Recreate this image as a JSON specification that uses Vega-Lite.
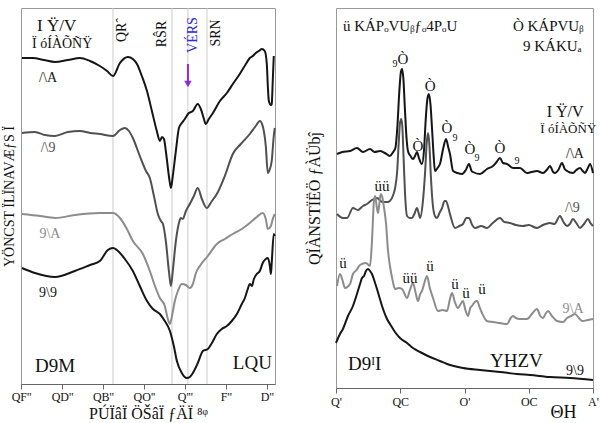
{
  "$schema": "https://vega.github.io/schema/vega-lite/v6.json",
  "background": "white",
  "padding": {"left": 1, "top": 7, "right": 1, "bottom": 2},
  "spacing": 25,
  "config": {
    "font": "Liberation Serif",
    "view": {"stroke": "#9a9a9a", "strokeWidth": 1},
    "axis": {"grid": false, "labelFont": "Liberation Serif", "titleFont": "Liberation Serif", "titleFontWeight": "normal", "labelColor": "#111", "titleColor": "#111", "domainColor": "#666", "tickColor": "#666"},
    "text": {"font": "Liberation Serif"}
  },
  "datasets": {
    "bands": [{"wn": 1351}, {"wn": 1063}, {"wn": 985}, {"wn": 892}],
    "ftir": [
      {"series":"F1","wn":1795,"a":326},{"series":"F1","wn":1741,"a":326},{"series":"F1","wn":1688,"a":324},{"series":"F1","wn":1634,"a":322},{"series":"F1","wn":1571,"a":324},{"series":"F1","wn":1512,"a":326},{"series":"F1","wn":1463,"a":323},{"series":"F1","wn":1415,"a":318},{"series":"F1","wn":1380,"a":313},{"series":"F1","wn":1351,"a":308},{"series":"F1","wn":1317,"a":321},{"series":"F1","wn":1278,"a":327},{"series":"F1","wn":1254,"a":325},{"series":"F1","wn":1234,"a":320},{"series":"F1","wn":1210,"a":308},{"series":"F1","wn":1185,"a":293},{"series":"F1","wn":1161,"a":273},{"series":"F1","wn":1137,"a":253},{"series":"F1","wn":1122,"a":243},{"series":"F1","wn":1112,"a":247},{"series":"F1","wn":1102,"a":245},{"series":"F1","wn":1093,"a":233},{"series":"F1","wn":1078,"a":208},{"series":"F1","wn":1068,"a":196},{"series":"F1","wn":1059,"a":208},{"series":"F1","wn":1044,"a":233},{"series":"F1","wn":1029,"a":256},{"series":"F1","wn":1015,"a":261},{"series":"F1","wn":1000,"a":265},{"series":"F1","wn":985,"a":270},{"series":"F1","wn":961,"a":273},{"series":"F1","wn":937,"a":280},{"series":"F1","wn":922,"a":275},{"series":"F1","wn":907,"a":265},{"series":"F1","wn":898,"a":260},{"series":"F1","wn":883,"a":265},{"series":"F1","wn":863,"a":271},{"series":"F1","wn":829,"a":283},{"series":"F1","wn":795,"a":291},{"series":"F1","wn":766,"a":300},{"series":"F1","wn":732,"a":310},{"series":"F1","wn":702,"a":320},{"series":"F1","wn":683,"a":326},{"series":"F1","wn":668,"a":328},{"series":"F1","wn":654,"a":331},{"series":"F1","wn":639,"a":333},{"series":"F1","wn":624,"a":335},{"series":"F1","wn":610,"a":333},{"series":"F1","wn":600,"a":320},{"series":"F1","wn":595,"a":298},{"series":"F1","wn":590,"a":283},{"series":"F1","wn":580,"a":279},{"series":"F1","wn":576,"a":280},{"series":"F1","wn":571,"a":303},{"series":"F1","wn":566,"a":328},
      {"series":"F2","wn":1795,"a":251},{"series":"F2","wn":1732,"a":252},{"series":"F2","wn":1683,"a":249},{"series":"F2","wn":1634,"a":248},{"series":"F2","wn":1571,"a":252},{"series":"F2","wn":1512,"a":253},{"series":"F2","wn":1463,"a":251},{"series":"F2","wn":1415,"a":250},{"series":"F2","wn":1351,"a":248},{"series":"F2","wn":1317,"a":254},{"series":"F2","wn":1293,"a":256},{"series":"F2","wn":1273,"a":253},{"series":"F2","wn":1254,"a":246},{"series":"F2","wn":1220,"a":228},{"series":"F2","wn":1190,"a":213},{"series":"F2","wn":1171,"a":206},{"series":"F2","wn":1151,"a":188},{"series":"F2","wn":1132,"a":170},{"series":"F2","wn":1117,"a":163},{"series":"F2","wn":1107,"a":160},{"series":"F2","wn":1093,"a":143},{"series":"F2","wn":1078,"a":113},{"series":"F2","wn":1068,"a":98},{"series":"F2","wn":1059,"a":113},{"series":"F2","wn":1044,"a":143},{"series":"F2","wn":1029,"a":161},{"series":"F2","wn":1020,"a":166},{"series":"F2","wn":1010,"a":165},{"series":"F2","wn":995,"a":173},{"series":"F2","wn":976,"a":180},{"series":"F2","wn":956,"a":188},{"series":"F2","wn":937,"a":196},{"series":"F2","wn":917,"a":185},{"series":"F2","wn":893,"a":176},{"series":"F2","wn":868,"a":183},{"series":"F2","wn":844,"a":190},{"series":"F2","wn":805,"a":208},{"series":"F2","wn":766,"a":230},{"series":"F2","wn":727,"a":240},{"series":"F2","wn":683,"a":250},{"series":"F2","wn":654,"a":258},{"series":"F2","wn":634,"a":263},{"series":"F2","wn":620,"a":258},{"series":"F2","wn":605,"a":238},{"series":"F2","wn":595,"a":211},{"series":"F2","wn":585,"a":215},{"series":"F2","wn":576,"a":223},{"series":"F2","wn":566,"a":248},{"series":"F2","wn":561,"a":256},
      {"series":"F3","wn":1795,"a":170},{"series":"F3","wn":1707,"a":168},{"series":"F3","wn":1634,"a":166},{"series":"F3","wn":1537,"a":169},{"series":"F3","wn":1415,"a":171},{"series":"F3","wn":1351,"a":171},{"series":"F3","wn":1317,"a":166},{"series":"F3","wn":1283,"a":155},{"series":"F3","wn":1254,"a":143},{"series":"F3","wn":1205,"a":130},{"series":"F3","wn":1171,"a":113},{"series":"F3","wn":1146,"a":98},{"series":"F3","wn":1122,"a":86},{"series":"F3","wn":1098,"a":78},{"series":"F3","wn":1083,"a":65},{"series":"F3","wn":1073,"a":60},{"series":"F3","wn":1063,"a":68},{"series":"F3","wn":1049,"a":83},{"series":"F3","wn":1034,"a":93},{"series":"F3","wn":1015,"a":100},{"series":"F3","wn":995,"a":99},{"series":"F3","wn":976,"a":96},{"series":"F3","wn":961,"a":100},{"series":"F3","wn":946,"a":111},{"series":"F3","wn":927,"a":118},{"series":"F3","wn":888,"a":128},{"series":"F3","wn":844,"a":140},{"series":"F3","wn":805,"a":145},{"series":"F3","wn":766,"a":150},{"series":"F3","wn":722,"a":155},{"series":"F3","wn":683,"a":161},{"series":"F3","wn":649,"a":167},{"series":"F3","wn":620,"a":171},{"series":"F3","wn":605,"a":165},{"series":"F3","wn":595,"a":155},{"series":"F3","wn":580,"a":158},{"series":"F3","wn":571,"a":165},{"series":"F3","wn":561,"a":170},
      {"series":"F4","wn":1795,"a":116},{"series":"F4","wn":1732,"a":111},{"series":"F4","wn":1634,"a":107},{"series":"F4","wn":1537,"a":113},{"series":"F4","wn":1463,"a":119},{"series":"F4","wn":1415,"a":123},{"series":"F4","wn":1376,"a":134},{"series":"F4","wn":1351,"a":136},{"series":"F4","wn":1332,"a":134},{"series":"F4","wn":1293,"a":125},{"series":"F4","wn":1254,"a":113},{"series":"F4","wn":1220,"a":98},{"series":"F4","wn":1185,"a":83},{"series":"F4","wn":1156,"a":75},{"series":"F4","wn":1122,"a":70},{"series":"F4","wn":1098,"a":63},{"series":"F4","wn":1073,"a":53},{"series":"F4","wn":1054,"a":38},{"series":"F4","wn":1039,"a":23},{"series":"F4","wn":1015,"a":11},{"series":"F4","wn":990,"a":6},{"series":"F4","wn":976,"a":7},{"series":"F4","wn":961,"a":11},{"series":"F4","wn":937,"a":21},{"series":"F4","wn":912,"a":33},{"series":"F4","wn":888,"a":35},{"series":"F4","wn":868,"a":41},{"series":"F4","wn":844,"a":50},{"series":"F4","wn":820,"a":55},{"series":"F4","wn":795,"a":58},{"series":"F4","wn":771,"a":63},{"series":"F4","wn":746,"a":70},{"series":"F4","wn":722,"a":80},{"series":"F4","wn":707,"a":86},{"series":"F4","wn":693,"a":95},{"series":"F4","wn":683,"a":100},{"series":"F4","wn":673,"a":98},{"series":"F4","wn":663,"a":105},{"series":"F4","wn":649,"a":110},{"series":"F4","wn":634,"a":113},{"series":"F4","wn":620,"a":121},{"series":"F4","wn":605,"a":125},{"series":"F4","wn":595,"a":126},{"series":"F4","wn":585,"a":118},{"series":"F4","wn":580,"a":110},{"series":"F4","wn":576,"a":121},{"series":"F4","wn":566,"a":150},{"series":"F4","wn":561,"a":148}
    ],
    "ftirNames": [
      {"series":"F1","label":"/\\A","wn":1668,"a":306},
      {"series":"F2","label":"/\\9","wn":1668,"a":236},
      {"series":"F3","label":"9\\A","wn":1659,"a":150},
      {"series":"F4","label":"9\\9","wn":1668,"a":91}
    ],
    "ftirNotes": [
      {"role":"head1","label":"I Ÿ/V","wn":1722,"a":358},
      {"role":"head2","label":"Ï óÍÀÕÑŸ","wn":1746,"a":340},
      {"role":"corner","label":"D9M","wn":1732,"a":18},
      {"role":"corner","label":"LQU","wn":766,"a":21}
    ],
    "ftirBands": [
      {"role":"black","label":"QRˆ","wn":1307,"a":354},
      {"role":"black","label":"RŜR","wn":1112,"a":350},
      {"role":"black","label":"SRN","wn":849,"a":351},
      {"role":"blue","label":"VÉRS","wn":961,"a":349}
    ],
    "arrow": [{"wn":985,"top":320,"bottom":303,"tip":300}],
    "xrd": [
      {"series":"X1","tt":10.08,"i":234},{"series":"X1","tt":10.5,"i":236},{"series":"X1","tt":11.09,"i":237},{"series":"X1","tt":11.63,"i":240},{"series":"X1","tt":12.1,"i":236},{"series":"X1","tt":12.65,"i":239},{"series":"X1","tt":13.0,"i":236},{"series":"X1","tt":13.42,"i":237},{"series":"X1","tt":13.8,"i":235},{"series":"X1","tt":14.2,"i":232},{"series":"X1","tt":14.45,"i":236},{"series":"X1","tt":14.62,"i":240},{"series":"X1","tt":14.78,"i":262},{"series":"X1","tt":14.92,"i":295},{"series":"X1","tt":15.05,"i":316},{"series":"X1","tt":15.14,"i":319},{"series":"X1","tt":15.24,"i":310},{"series":"X1","tt":15.37,"i":277},{"series":"X1","tt":15.5,"i":248},{"series":"X1","tt":15.62,"i":236},{"series":"X1","tt":15.8,"i":232},{"series":"X1","tt":15.99,"i":229},{"series":"X1","tt":16.15,"i":232},{"series":"X1","tt":16.3,"i":236},{"series":"X1","tt":16.45,"i":230},{"series":"X1","tt":16.69,"i":224},{"series":"X1","tt":16.85,"i":238},{"series":"X1","tt":16.98,"i":268},{"series":"X1","tt":17.1,"i":288},{"series":"X1","tt":17.22,"i":294},{"series":"X1","tt":17.35,"i":284},{"series":"X1","tt":17.47,"i":260},{"series":"X1","tt":17.6,"i":232},{"series":"X1","tt":17.7,"i":217},{"series":"X1","tt":17.9,"i":220},{"series":"X1","tt":18.09,"i":224},{"series":"X1","tt":18.35,"i":240},{"series":"X1","tt":18.56,"i":249},{"series":"X1","tt":18.75,"i":240},{"series":"X1","tt":18.87,"i":234},{"series":"X1","tt":19.11,"i":217},{"series":"X1","tt":19.45,"i":215},{"series":"X1","tt":19.81,"i":214},{"series":"X1","tt":20.1,"i":218},{"series":"X1","tt":20.35,"i":224},{"series":"X1","tt":20.55,"i":217},{"series":"X1","tt":20.66,"i":216},{"series":"X1","tt":21.21,"i":214},{"series":"X1","tt":21.75,"i":219},{"series":"X1","tt":22.22,"i":222},{"series":"X1","tt":22.5,"i":226},{"series":"X1","tt":22.76,"i":230},{"series":"X1","tt":23.0,"i":225},{"series":"X1","tt":23.31,"i":224},{"series":"X1","tt":23.8,"i":220},{"series":"X1","tt":24.32,"i":220},{"series":"X1","tt":24.86,"i":215},{"series":"X1","tt":25.2,"i":216},{"series":"X1","tt":25.64,"i":217},{"series":"X1","tt":26.11,"i":215},{"series":"X1","tt":26.4,"i":218},{"series":"X1","tt":26.65,"i":222},{"series":"X1","tt":26.9,"i":216},{"series":"X1","tt":27.04,"i":215},{"series":"X1","tt":27.3,"i":218},{"series":"X1","tt":27.59,"i":225},{"series":"X1","tt":27.8,"i":219},{"series":"X1","tt":27.98,"i":217},{"series":"X1","tt":28.44,"i":215},{"series":"X1","tt":28.7,"i":218},{"series":"X1","tt":28.99,"i":220},{"series":"X1","tt":29.2,"i":217},{"series":"X1","tt":29.38,"i":215},{"series":"X1","tt":29.6,"i":220},{"series":"X1","tt":29.77,"i":224},{"series":"X1","tt":30.0,"i":215},
      {"series":"X2","tt":10.08,"i":174},{"series":"X2","tt":10.54,"i":170},{"series":"X2","tt":10.86,"i":170},{"series":"X2","tt":11.32,"i":180},{"series":"X2","tt":11.7,"i":178},{"series":"X2","tt":12.1,"i":182},{"series":"X2","tt":12.41,"i":184},{"series":"X2","tt":12.8,"i":188},{"series":"X2","tt":13.19,"i":190},{"series":"X2","tt":13.6,"i":186},{"series":"X2","tt":14.0,"i":186},{"series":"X2","tt":14.2,"i":187},{"series":"X2","tt":14.45,"i":193},{"series":"X2","tt":14.6,"i":200},{"series":"X2","tt":14.75,"i":215},{"series":"X2","tt":14.88,"i":245},{"series":"X2","tt":14.98,"i":265},{"series":"X2","tt":15.08,"i":269},{"series":"X2","tt":15.16,"i":262},{"series":"X2","tt":15.26,"i":230},{"series":"X2","tt":15.37,"i":195},{"series":"X2","tt":15.53,"i":172},{"series":"X2","tt":15.75,"i":170},{"series":"X2","tt":15.91,"i":170},{"series":"X2","tt":16.1,"i":174},{"series":"X2","tt":16.3,"i":180},{"series":"X2","tt":16.45,"i":174},{"series":"X2","tt":16.54,"i":170},{"series":"X2","tt":16.75,"i":185},{"series":"X2","tt":16.93,"i":215},{"series":"X2","tt":17.06,"i":245},{"series":"X2","tt":17.16,"i":255},{"series":"X2","tt":17.26,"i":245},{"series":"X2","tt":17.39,"i":210},{"series":"X2","tt":17.52,"i":185},{"series":"X2","tt":17.7,"i":172},{"series":"X2","tt":17.86,"i":170},{"series":"X2","tt":18.05,"i":175},{"series":"X2","tt":18.25,"i":180},{"series":"X2","tt":18.45,"i":187},{"series":"X2","tt":18.56,"i":187},{"series":"X2","tt":18.75,"i":180},{"series":"X2","tt":18.87,"i":174},{"series":"X2","tt":19.26,"i":160},{"series":"X2","tt":19.6,"i":162},{"series":"X2","tt":19.88,"i":164},{"series":"X2","tt":20.15,"i":170},{"series":"X2","tt":20.35,"i":170},{"series":"X2","tt":20.6,"i":163},{"series":"X2","tt":20.82,"i":160},{"series":"X2","tt":21.3,"i":162},{"series":"X2","tt":21.75,"i":160},{"series":"X2","tt":22.2,"i":165},{"series":"X2","tt":22.76,"i":170},{"series":"X2","tt":23.1,"i":166},{"series":"X2","tt":23.54,"i":165},{"series":"X2","tt":24.0,"i":163},{"series":"X2","tt":24.55,"i":162},{"series":"X2","tt":25.0,"i":163},{"series":"X2","tt":25.64,"i":160},{"series":"X2","tt":26.1,"i":163},{"series":"X2","tt":26.65,"i":165},{"series":"X2","tt":27.0,"i":164},{"series":"X2","tt":27.43,"i":172},{"series":"X2","tt":27.7,"i":166},{"series":"X2","tt":27.98,"i":162},{"series":"X2","tt":28.2,"i":164},{"series":"X2","tt":28.44,"i":169},{"series":"X2","tt":28.7,"i":165},{"series":"X2","tt":28.99,"i":160},{"series":"X2","tt":29.3,"i":164},{"series":"X2","tt":29.61,"i":169},{"series":"X2","tt":29.8,"i":165},{"series":"X2","tt":30.0,"i":162},
      {"series":"X3","tt":10.08,"i":102},{"series":"X3","tt":10.31,"i":114},{"series":"X3","tt":10.5,"i":108},{"series":"X3","tt":10.7,"i":100},{"series":"X3","tt":11.09,"i":104},{"series":"X3","tt":11.32,"i":114},{"series":"X3","tt":11.6,"i":118},{"series":"X3","tt":11.87,"i":123},{"series":"X3","tt":12.33,"i":125},{"series":"X3","tt":12.65,"i":122},{"series":"X3","tt":12.8,"i":147},{"series":"X3","tt":12.96,"i":188},{"series":"X3","tt":13.05,"i":192},{"series":"X3","tt":13.18,"i":180},{"series":"X3","tt":13.27,"i":175},{"series":"X3","tt":13.35,"i":182},{"series":"X3","tt":13.48,"i":194},{"series":"X3","tt":13.58,"i":192},{"series":"X3","tt":13.74,"i":180},{"series":"X3","tt":13.89,"i":165},{"series":"X3","tt":14.05,"i":137},{"series":"X3","tt":14.2,"i":122},{"series":"X3","tt":14.4,"i":108},{"series":"X3","tt":14.59,"i":99},{"series":"X3","tt":14.9,"i":100},{"series":"X3","tt":15.14,"i":99},{"series":"X3","tt":15.53,"i":90},{"series":"X3","tt":15.75,"i":98},{"series":"X3","tt":15.99,"i":105},{"series":"X3","tt":16.2,"i":95},{"series":"X3","tt":16.38,"i":87},{"series":"X3","tt":16.55,"i":94},{"series":"X3","tt":16.69,"i":97},{"series":"X3","tt":16.9,"i":106},{"series":"X3","tt":17.08,"i":112},{"series":"X3","tt":17.3,"i":100},{"series":"X3","tt":17.55,"i":90},{"series":"X3","tt":17.94,"i":77},{"series":"X3","tt":18.3,"i":78},{"series":"X3","tt":18.64,"i":77},{"series":"X3","tt":18.85,"i":88},{"series":"X3","tt":19.03,"i":95},{"series":"X3","tt":19.25,"i":86},{"series":"X3","tt":19.49,"i":80},{"series":"X3","tt":19.7,"i":84},{"series":"X3","tt":19.88,"i":87},{"series":"X3","tt":20.07,"i":78},{"series":"X3","tt":20.27,"i":72},{"series":"X3","tt":20.45,"i":80},{"series":"X3","tt":20.58,"i":82},{"series":"X3","tt":20.8,"i":86},{"series":"X3","tt":20.97,"i":87},{"series":"X3","tt":21.2,"i":80},{"series":"X3","tt":21.36,"i":75},{"series":"X3","tt":21.75,"i":67},{"series":"X3","tt":22.2,"i":66},{"series":"X3","tt":22.76,"i":65},{"series":"X3","tt":23.31,"i":64},{"series":"X3","tt":23.6,"i":70},{"series":"X3","tt":23.77,"i":72},{"series":"X3","tt":24.0,"i":70},{"series":"X3","tt":24.32,"i":69},{"series":"X3","tt":24.86,"i":69},{"series":"X3","tt":25.3,"i":75},{"series":"X3","tt":25.64,"i":79},{"series":"X3","tt":25.9,"i":72},{"series":"X3","tt":26.11,"i":70},{"series":"X3","tt":26.3,"i":74},{"series":"X3","tt":26.5,"i":77},{"series":"X3","tt":26.8,"i":72},{"series":"X3","tt":27.2,"i":67},{"series":"X3","tt":27.67,"i":66},{"series":"X3","tt":27.98,"i":70},{"series":"X3","tt":28.3,"i":72},{"series":"X3","tt":28.6,"i":74},{"series":"X3","tt":28.9,"i":70},{"series":"X3","tt":29.18,"i":67},{"series":"X3","tt":29.6,"i":68},{"series":"X3","tt":30.0,"i":69},
      {"series":"X4","tt":10.0,"i":45},{"series":"X4","tt":10.31,"i":54},{"series":"X4","tt":10.54,"i":59},{"series":"X4","tt":10.93,"i":72},{"series":"X4","tt":11.32,"i":82},{"series":"X4","tt":11.63,"i":94},{"series":"X4","tt":11.87,"i":104},{"series":"X4","tt":12.02,"i":110},{"series":"X4","tt":12.18,"i":112},{"series":"X4","tt":12.33,"i":117},{"series":"X4","tt":12.49,"i":119},{"series":"X4","tt":12.65,"i":117},{"series":"X4","tt":12.8,"i":114},{"series":"X4","tt":13.04,"i":105},{"series":"X4","tt":13.19,"i":99},{"series":"X4","tt":13.42,"i":89},{"series":"X4","tt":13.66,"i":79},{"series":"X4","tt":13.97,"i":69},{"series":"X4","tt":14.2,"i":64},{"series":"X4","tt":14.59,"i":56},{"series":"X4","tt":14.98,"i":50},{"series":"X4","tt":15.53,"i":45},{"series":"X4","tt":15.99,"i":40},{"series":"X4","tt":16.54,"i":36},{"series":"X4","tt":17.32,"i":31},{"series":"X4","tt":18.09,"i":27},{"series":"X4","tt":18.64,"i":24},{"series":"X4","tt":19.88,"i":20},{"series":"X4","tt":21.21,"i":18},{"series":"X4","tt":22.76,"i":16},{"series":"X4","tt":24.09,"i":14},{"series":"X4","tt":25.1,"i":13},{"series":"X4","tt":26.65,"i":11},{"series":"X4","tt":28.21,"i":10},{"series":"X4","tt":30.0,"i":8}
    ],
    "xrdNames": [
      {"series":"X1","label":"/\\A","tt":28.6,"i":234},
      {"series":"X2","label":"/\\9","tt":28.4,"i":180},
      {"series":"X3","label":"9\\A","tt":28.45,"i":79},
      {"series":"X4","label":"9\\9","tt":28.6,"i":17}
    ],
    "xrdNotes": [
      {"role":"head","label":"ü  KÁPₒVUᵦƒₒ4PₒU","tt":10.54,"i":362},
      {"role":"head","label":"Ò  KÁPVUᵦ","tt":23.77,"i":362},
      {"role":"head","label":"9  KÁKUₐ","tt":24.55,"i":342},
      {"role":"head1","label":"I Ÿ/V","tt":26.4,"i":276},
      {"role":"head2","label":"Ï óÍÀÕÑŸ","tt":25.9,"i":259},
      {"role":"corner","label":"D9ᴵI","tt":10.93,"i":24},
      {"role":"corner","label":"YHZV","tt":21.98,"i":27}
    ],
    "xrdPeaks": [
      {"role":"big","label":"Ò","tt":15.21,"i":329},
      {"role":"big","label":"Ò","tt":17.32,"i":302},
      {"role":"big","label":"Ò","tt":16.38,"i":242},
      {"role":"big","label":"Ò","tt":18.64,"i":260},
      {"role":"big","label":"Ò","tt":20.43,"i":239},
      {"role":"big","label":"Ò","tt":22.76,"i":240},
      {"role":"small","label":"9","tt":14.59,"i":324},
      {"role":"small","label":"9","tt":19.26,"i":250},
      {"role":"small","label":"9","tt":20.97,"i":230},
      {"role":"small","label":"9","tt":24.09,"i":227},
      {"role":"big","label":"üü","tt":13.58,"i":202},
      {"role":"big","label":"ü","tt":10.54,"i":125},
      {"role":"big","label":"üü","tt":15.76,"i":110},
      {"role":"big","label":"ü","tt":17.32,"i":122},
      {"role":"big","label":"ü","tt":19.26,"i":104},
      {"role":"big","label":"ü","tt":20.12,"i":95},
      {"role":"big","label":"ü","tt":21.36,"i":99}
    ]
  },
  "hconcat": [
    {
      "width": 254,
      "height": 376,
      "layer": [
        {
          "data": {"name": "bands"},
          "mark": {"type": "rule", "color": "#cccccc", "strokeWidth": 1},
          "encoding": {
            "x": {"field": "wn", "type": "quantitative",
              "scale": {"domain": [560, 1800], "reverse": true, "nice": false, "zero": false},
              "axis": {"values": [1800,1700,1600,1500,1400,1300,1200,1100,1000,900,800,700,600],
                "labelExpr": "datum.value == 1800 ? \"QF''\" : datum.value == 1600 ? \"QD''\" : datum.value == 1400 ? \"QB''\" : datum.value == 1200 ? \"QO''\" : datum.value == 1000 ? \"Q'''\" : datum.value == 800 ? \"F''\" : datum.value == 600 ? \"D''\" : ''",
                "labelFontSize": 12, "tickSize": 5, "labelPadding": 2, "labelFlush": false,
                "title": "PÚÏâÏ ÖŠâÏ ƒÄÏ ⁸ᵠ", "titleFontSize": 16, "titlePadding": 3}}
          }
        },
        {
          "data": {"name": "ftir"},
          "mark": {"type": "line", "strokeWidth": 2, "interpolate": "monotone"},
          "encoding": {
            "x": {"field": "wn", "type": "quantitative"},
            "y": {"field": "a", "type": "quantitative",
              "scale": {"domain": [0, 376], "nice": false, "zero": false},
              "axis": {"ticks": false, "labels": false, "domain": false, "title": "YÖNCST ÏLÏNAVÆƒS Ï", "titleFontSize": 14, "titlePadding": 5}},
            "color": {"field": "series", "type": "nominal",
              "scale": {"domain": ["F1","F2","F3","F4"], "range": ["#151515","#505050","#8c8c8c","#151515"]},
              "legend": null}
          }
        },
        {
          "data": {"name": "ftirNames"},
          "mark": {"type": "text", "fontSize": 14, "align": "center", "baseline": "middle"},
          "encoding": {
            "x": {"field": "wn", "type": "quantitative"},
            "y": {"field": "a", "type": "quantitative"},
            "text": {"field": "label"},
            "color": {"field": "series", "type": "nominal", "legend": null}
          }
        },
        {
          "data": {"name": "ftirNotes"},
          "transform": [{"filter": "datum.role == 'head1'"}],
          "mark": {"type": "text", "fontSize": 17, "align": "left", "baseline": "middle", "color": "#111"},
          "encoding": {"x": {"field": "wn", "type": "quantitative"}, "y": {"field": "a", "type": "quantitative"}, "text": {"field": "label"}}
        },
        {
          "data": {"name": "ftirNotes"},
          "transform": [{"filter": "datum.role == 'head2'"}],
          "mark": {"type": "text", "fontSize": 14, "align": "left", "baseline": "middle", "color": "#111"},
          "encoding": {"x": {"field": "wn", "type": "quantitative"}, "y": {"field": "a", "type": "quantitative"}, "text": {"field": "label"}}
        },
        {
          "data": {"name": "ftirNotes"},
          "transform": [{"filter": "datum.role == 'corner'"}],
          "mark": {"type": "text", "fontSize": 19, "align": "left", "baseline": "middle", "color": "#111"},
          "encoding": {"x": {"field": "wn", "type": "quantitative"}, "y": {"field": "a", "type": "quantitative"}, "text": {"field": "label"}}
        },
        {
          "data": {"name": "ftirBands"},
          "transform": [{"filter": "datum.role == 'black'"}],
          "mark": {"type": "text", "fontSize": 14, "angle": 270, "align": "center", "baseline": "middle", "color": "#111"},
          "encoding": {"x": {"field": "wn", "type": "quantitative"}, "y": {"field": "a", "type": "quantitative"}, "text": {"field": "label"}}
        },
        {
          "data": {"name": "ftirBands"},
          "transform": [{"filter": "datum.role == 'blue'"}],
          "mark": {"type": "text", "fontSize": 14, "angle": 270, "align": "center", "baseline": "middle", "color": "#2a2ae0"},
          "encoding": {"x": {"field": "wn", "type": "quantitative"}, "y": {"field": "a", "type": "quantitative"}, "text": {"field": "label"}}
        },
        {
          "data": {"name": "arrow"},
          "mark": {"type": "rule", "color": "#8a2be2", "strokeWidth": 2},
          "encoding": {"x": {"field": "wn", "type": "quantitative"}, "y": {"field": "top", "type": "quantitative"}, "y2": {"field": "bottom"}}
        },
        {
          "data": {"name": "arrow"},
          "mark": {"type": "point", "shape": "triangle-down", "filled": true, "color": "#8a2be2", "size": 55, "opacity": 1},
          "encoding": {"x": {"field": "wn", "type": "quantitative"}, "y": {"field": "tip", "type": "quantitative"}}
        }
      ]
    },
    {
      "width": 257,
      "height": 380,
      "layer": [
        {
          "data": {"name": "xrd"},
          "mark": {"type": "line", "strokeWidth": 2, "interpolate": "monotone"},
          "encoding": {
            "x": {"field": "tt", "type": "quantitative",
              "scale": {"domain": [10, 30], "nice": false, "zero": false},
              "axis": {"values": [10,12.5,15,17.5,20,22.5,25,27.5,30],
                "labelExpr": "datum.value == 10 ? \"Q'\" : datum.value == 15 ? 'QC' : datum.value == 20 ? \"O'\" : datum.value == 25 ? 'OC' : datum.value == 30 ? \"A'\" : ''",
                "labelFontSize": 12, "tickSize": 5, "labelPadding": 3, "labelFlush": false,
                "title": "ΘH", "titleFontSize": 18, "titleX": 240, "titleAlign": "right", "titlePadding": -4}},
            "y": {"field": "i", "type": "quantitative",
              "scale": {"domain": [0, 380], "nice": false, "zero": false},
              "axis": {"ticks": false, "labels": false, "domain": false, "title": "QÏÀNSTÏËÖ ƒÀÜbĵ", "titleFontSize": 16, "titlePadding": 14}},
            "color": {"field": "series", "type": "nominal",
              "scale": {"domain": ["X1","X2","X3","X4"], "range": ["#585858","#585858","#999999","#111111"]},
              "legend": null}
          }
        },
        {
          "data": {"name": "xrdNames"},
          "mark": {"type": "text", "fontSize": 14, "align": "center", "baseline": "middle"},
          "encoding": {
            "x": {"field": "tt", "type": "quantitative"},
            "y": {"field": "i", "type": "quantitative"},
            "text": {"field": "label"},
            "color": {"field": "series", "type": "nominal", "legend": null}
          }
        },
        {
          "data": {"name": "xrdNotes"},
          "transform": [{"filter": "datum.role == 'head'"}],
          "mark": {"type": "text", "fontSize": 15, "align": "left", "baseline": "middle", "color": "#111"},
          "encoding": {"x": {"field": "tt", "type": "quantitative"}, "y": {"field": "i", "type": "quantitative"}, "text": {"field": "label"}}
        },
        {
          "data": {"name": "xrdNotes"},
          "transform": [{"filter": "datum.role == 'head1'"}],
          "mark": {"type": "text", "fontSize": 16, "align": "left", "baseline": "middle", "color": "#111"},
          "encoding": {"x": {"field": "tt", "type": "quantitative"}, "y": {"field": "i", "type": "quantitative"}, "text": {"field": "label"}}
        },
        {
          "data": {"name": "xrdNotes"},
          "transform": [{"filter": "datum.role == 'head2'"}],
          "mark": {"type": "text", "fontSize": 13, "align": "left", "baseline": "middle", "color": "#111"},
          "encoding": {"x": {"field": "tt", "type": "quantitative"}, "y": {"field": "i", "type": "quantitative"}, "text": {"field": "label"}}
        },
        {
          "data": {"name": "xrdNotes"},
          "transform": [{"filter": "datum.role == 'corner'"}],
          "mark": {"type": "text", "fontSize": 19, "align": "left", "baseline": "middle", "color": "#111"},
          "encoding": {"x": {"field": "tt", "type": "quantitative"}, "y": {"field": "i", "type": "quantitative"}, "text": {"field": "label"}}
        },
        {
          "data": {"name": "xrdPeaks"},
          "transform": [{"filter": "datum.role == 'big'"}],
          "mark": {"type": "text", "fontSize": 15, "align": "center", "baseline": "middle", "color": "#111"},
          "encoding": {"x": {"field": "tt", "type": "quantitative"}, "y": {"field": "i", "type": "quantitative"}, "text": {"field": "label"}}
        },
        {
          "data": {"name": "xrdPeaks"},
          "transform": [{"filter": "datum.role == 'small'"}],
          "mark": {"type": "text", "fontSize": 10, "align": "center", "baseline": "middle", "color": "#111"},
          "encoding": {"x": {"field": "tt", "type": "quantitative"}, "y": {"field": "i", "type": "quantitative"}, "text": {"field": "label"}}
        }
      ]
    }
  ]
}
